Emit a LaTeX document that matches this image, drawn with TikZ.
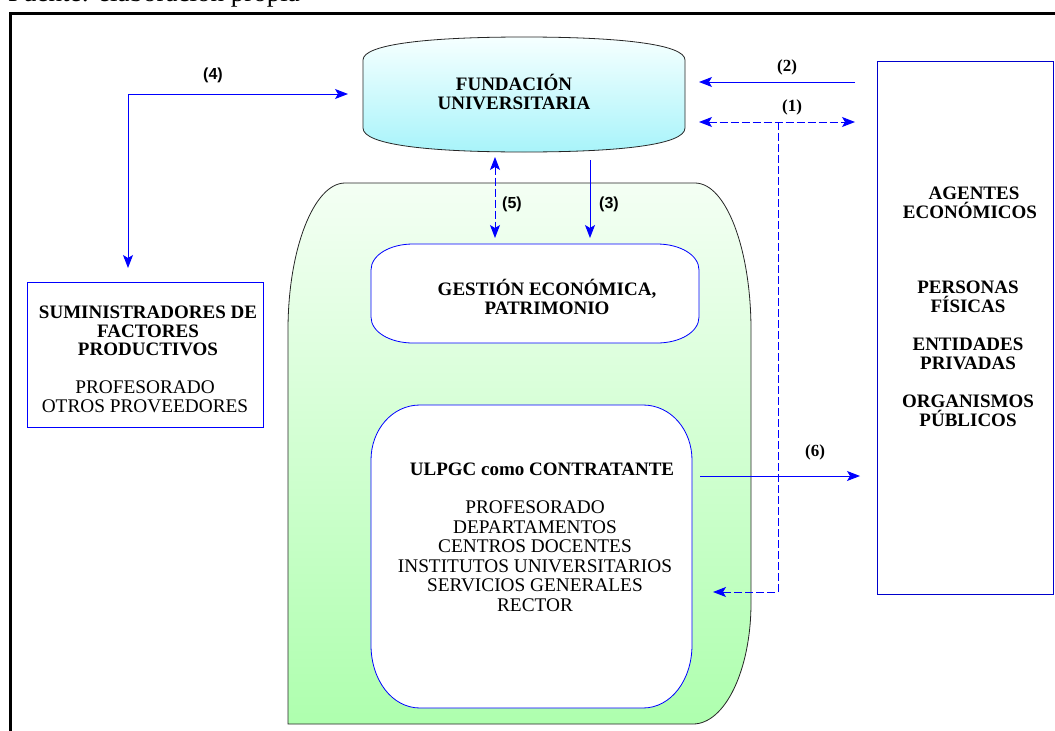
\documentclass[tikz,border=0pt]{standalone}
\usepackage{fontspec}
\setmainfont{Liberation Serif}
\setsansfont{Liberation Sans}
\usetikzlibrary{arrows.meta}
\definecolor{gtop}{HTML}{F4FFF4}
\definecolor{gbot}{HTML}{AEFFAE}
\definecolor{ctop}{HTML}{F6FFFF}
\definecolor{cbot}{HTML}{A8F4FA}
\definecolor{lblue}{HTML}{0000FF}
\begin{document}
\begin{tikzpicture}[x=1pt,y=-1pt,
  txt/.style={font=\fontsize{19.3}{19.5}\selectfont, align=center, inner sep=0pt},
  btxt/.style={font=\fontsize{19}{19.5}\selectfont\bfseries, align=center, inner sep=0pt},
  lbl/.style={font=\fontsize{17}{18}\selectfont\bfseries, inner sep=0pt},
  slbl/.style={font=\fontsize{16}{18}\selectfont\sffamily\bfseries, inner sep=0pt},
  tip/.tip={Stealth[length=13pt,width=10pt,inset=3pt]},
  conn/.style={draw=lblue, line width=1pt, -tip},
  conn2/.style={draw=lblue, line width=1pt, tip-tip},
  dconn/.style={conn, dash pattern=on 8pt off 3pt},
  dconn2/.style={conn2, dash pattern=on 8pt off 3pt},
  bluebox/.style={draw=lblue, line width=0.8pt, fill=white},
]
\useasboundingbox (0,0) rectangle (1055,731);
\fill[white] (0,0) rectangle (1055,731);

% caption (cut by the page top, as in the reference)
\node[anchor=base west, font=\fontsize{27}{30}\selectfont, inner sep=0pt] (fuente) at (8,1.5) {Fuente: elaboración propia};

% outer frame
\draw[line width=3pt] (10,740) -- (10,13) -- (1065,13);

% big green shape
\path[draw=black!85, line width=0.8pt, top color=gtop, bottom color=gbot]
  (288,724) -- (288,330) .. controls (288,249) and (314,183) .. (345,183)
  -- (695,183) .. controls (726,183) and (751,249) .. (751,330)
  -- (751,603) .. controls (751,670) and (725,724) .. (693,724) -- cycle;

% Fundacion shape
\path[draw=black!85, line width=0.8pt, top color=ctop, bottom color=cbot]
  (363,60) .. controls (363,44) and (430,37) .. (524,37)
  .. controls (618,37) and (685,44) .. (685,60) -- (685,128)
  .. controls (685,145) and (618,152) .. (524,152)
  .. controls (430,152) and (363,145) .. (363,128) -- cycle;
\node[btxt] (fund) at (514,92) {FUNDACIÓN\\UNIVERSITARIA};

% Gestion shape
\path[bluebox]
  (371,270) .. controls (371,255) and (390,244) .. (413,244) -- (657,244)
  .. controls (680,244) and (699,255) .. (699,270) -- (699,317)
  .. controls (699,332) and (680,343) .. (657,343) -- (413,343)
  .. controls (390,343) and (371,332) .. (371,317) -- cycle;
\node[btxt] (gest) at (547,297) {GESTIÓN ECONÓMICA,\\PATRIMONIO};

% ULPGC shape
\path[bluebox]
  (371,460) .. controls (371,430) and (392,405) .. (420,405) -- (643,405)
  .. controls (671,405) and (692,430) .. (692,460) -- (692,645)
  .. controls (692,680) and (671,708) .. (643,708) -- (420,708)
  .. controls (392,708) and (371,680) .. (371,645) -- cycle;
\node[btxt] (ulpgc) at (542,469) {ULPGC como CONTRATANTE};
\node[txt] (ulist) at (535,556) {PROFESORADO\\DEPARTAMENTOS\\CENTROS DOCENTES\\INSTITUTOS UNIVERSITARIOS\\SERVICIOS GENERALES\\RECTOR};

% Suministradores
\draw[draw=lblue, line width=0.8pt] (27,282) rectangle (263,427);
\node[btxt, font=\fontsize{19}{18.8}\selectfont\bfseries] (sum) at (148,331) {SUMINISTRADORES DE\\FACTORES\\PRODUCTIVOS};
\node[txt, font=\fontsize{19.3}{18.8}\selectfont] (prov) at (145,397) {PROFESORADO\\OTROS PROVEEDORES};

% Agentes
\draw[draw=blue!80!black, line width=0.9pt] (877,61) rectangle (1053,594);
\node[btxt] (ag) at (970,203) {\hspace*{8pt}AGENTES\\ECONÓMICOS};
\node[btxt] (pf) at (968,297) {PERSONAS\\FÍSICAS};
\node[btxt] (ep) at (968,354) {ENTIDADES\\PRIVADAS};
\node[btxt] (op) at (968,411) {ORGANISMOS\\PÚBLICOS};

% connectors
\coordinate (a4v) at (128,268);
\coordinate (a4h) at (348,94);
\draw[conn2] (a4v) |- (a4h);
\node[slbl] (l4) at (213,75) {(4)};

\coordinate (a2s) at (855,82);
\coordinate (a2e) at (699,82);
\draw[conn] (a2s) -- (a2e);
\node[lbl] (l2) at (787,67) {(2)};

\coordinate (a1l) at (699,122);
\coordinate (a1r) at (855,122);
\draw[dconn2] (a1l) -- (a1r);
\node[lbl] (l1) at (792,107) {(1)};
\coordinate (a1j) at (778,122);
\coordinate (a1e) at (713,592);
\draw[dconn] (a1j) |- (a1e);

\coordinate (a5t) at (495,157);
\coordinate (a5b) at (495,238);
\draw[dconn2] (a5t) -- (a5b);
\node[slbl] (l5) at (512,204) {(5)};

\coordinate (a3s) at (590,160);
\coordinate (a3e) at (590,238);
\draw[conn] (a3s) -- (a3e);
\node[slbl] (l3) at (609,204) {(3)};

\coordinate (a6s) at (700,476);
\coordinate (a6e) at (860,476);
\draw[conn] (a6s) -- (a6e);
\node[lbl] (l6) at (815,452) {(6)};
\end{tikzpicture}
\end{document}
